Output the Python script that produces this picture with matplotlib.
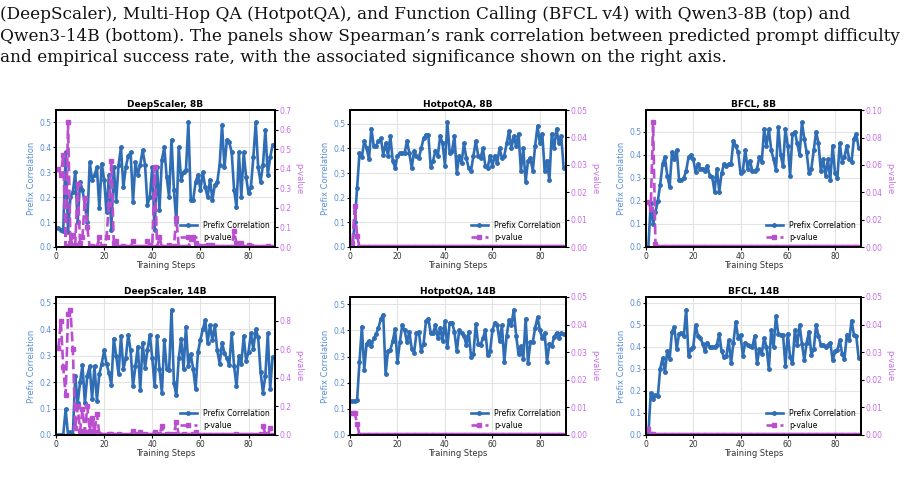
import matplotlib
matplotlib.use("Agg")
import matplotlib.pyplot as plt
import numpy as np

steps = list(range(1, 91))

titles = ["DeepScaler, 8B", "HotpotQA, 8B", "BFCL, 8B",
          "DeepScaler, 14B", "HotpotQA, 14B", "BFCL, 14B"]

ds8_corr = [0.075, 0.07, 0.065, 0.38, 0.06, 0.20, 0.22, 0.30, 0.10, 0.26,
            0.23, 0.17, 0.10, 0.34, 0.27, 0.29, 0.32, 0.155, 0.335, 0.27,
            0.14, 0.29, 0.07, 0.32, 0.185, 0.33, 0.40, 0.24, 0.32, 0.365,
            0.38, 0.18, 0.34, 0.29, 0.33, 0.39, 0.33, 0.17, 0.20, 0.32,
            0.07, 0.32, 0.15, 0.35, 0.40, 0.28, 0.20, 0.43, 0.23, 0.10,
            0.40, 0.27, 0.30, 0.31, 0.50, 0.19, 0.19, 0.26, 0.29, 0.23,
            0.30, 0.24, 0.20, 0.27, 0.19, 0.25, 0.26, 0.33, 0.49, 0.32,
            0.43, 0.42, 0.38, 0.23, 0.16, 0.38, 0.20, 0.38, 0.28, 0.215,
            0.24, 0.36, 0.50, 0.32, 0.26, 0.33, 0.47, 0.29, 0.36, 0.41]
ds8_pval = [0.40, 0.37, 0.47, 0.005, 0.637, 0.02, 0.06, 0.01, 0.32, 0.02,
            0.05, 0.25, 0.10, 0.0, 0.003, 0.002, 0.001, 0.05, 0.0, 0.003,
            0.05, 0.22, 0.44, 0.02, 0.03, 0.0, 0.0, 0.005, 0.0, 0.0,
            0.0, 0.03, 0.0, 0.002, 0.0, 0.0, 0.0, 0.03, 0.01, 0.0,
            0.41, 0.0, 0.05, 0.001, 0.0, 0.002, 0.01, 0.0, 0.005, 0.15,
            0.0, 0.002, 0.0, 0.0, 0.0, 0.04, 0.05, 0.02, 0.003, 0.005,
            0.0, 0.003, 0.01, 0.001, 0.01, 0.002, 0.001, 0.0, 0.0, 0.0,
            0.0, 0.0, 0.0, 0.08, 0.02, 0.0, 0.02, 0.0, 0.002, 0.01,
            0.005, 0.0, 0.0, 0.0, 0.002, 0.0, 0.0, 0.003, 0.0, 0.0]

hq8_corr = [0.0, 0.10, 0.24, 0.38, 0.363, 0.43, 0.40, 0.355, 0.48, 0.41,
            0.41, 0.43, 0.44, 0.375, 0.42, 0.37, 0.45, 0.35, 0.32, 0.37,
            0.38, 0.38, 0.38, 0.43, 0.38, 0.32, 0.39, 0.37, 0.36, 0.40,
            0.44, 0.455, 0.455, 0.325, 0.35, 0.39, 0.37, 0.45, 0.42, 0.33,
            0.505, 0.38, 0.39, 0.45, 0.30, 0.37, 0.34, 0.42, 0.36, 0.32,
            0.31, 0.37, 0.43, 0.37, 0.36, 0.40, 0.33, 0.32, 0.37, 0.33,
            0.37, 0.34, 0.40, 0.36, 0.37, 0.42, 0.47, 0.40, 0.45, 0.41,
            0.46, 0.31, 0.40, 0.265, 0.35, 0.36, 0.31, 0.41, 0.49, 0.42,
            0.46, 0.31, 0.35, 0.27, 0.46, 0.40, 0.48, 0.42, 0.45, 0.32]
hq8_pval = [0.0015, 0.015, 0.004] + [0.0] * 87

bf8_corr = [0.0, 0.19, 0.10, 0.15, 0.20, 0.27, 0.36, 0.39, 0.31, 0.26,
            0.41, 0.38, 0.42, 0.29, 0.29, 0.30, 0.33, 0.39, 0.40, 0.38,
            0.325, 0.36, 0.34, 0.34, 0.33, 0.35, 0.31, 0.305, 0.24, 0.34,
            0.24, 0.32, 0.36, 0.35, 0.36, 0.36, 0.46, 0.44, 0.41, 0.32,
            0.33, 0.42, 0.34, 0.375, 0.33, 0.33, 0.34, 0.39, 0.37, 0.51,
            0.44, 0.51, 0.42, 0.38, 0.335, 0.52, 0.40, 0.35, 0.51, 0.44,
            0.31, 0.49, 0.50, 0.45, 0.40, 0.54, 0.47, 0.41, 0.32, 0.34,
            0.42, 0.50, 0.45, 0.33, 0.38, 0.31, 0.38, 0.29, 0.44, 0.32,
            0.30, 0.45, 0.37, 0.39, 0.44, 0.38, 0.37, 0.47, 0.49, 0.43]
bf8_pval = [0.033, 0.028, 0.091, 0.002] + [0.0] * 86

ds14_corr = [0.0, 0.0, 0.0, 0.097, 0.0, 0.01, 0.0, 0.225, 0.12, 0.20,
             0.265, 0.12, 0.225, 0.26, 0.135, 0.26, 0.13, 0.23, 0.27, 0.32,
             0.27, 0.235, 0.19, 0.365, 0.30, 0.23, 0.375, 0.25, 0.29, 0.38,
             0.32, 0.185, 0.26, 0.335, 0.17, 0.35, 0.255, 0.32, 0.38, 0.29,
             0.185, 0.375, 0.25, 0.16, 0.36, 0.25, 0.245, 0.475, 0.195, 0.15,
             0.29, 0.365, 0.25, 0.41, 0.26, 0.305, 0.25, 0.175, 0.315, 0.36,
             0.40, 0.435, 0.35, 0.415, 0.36, 0.415, 0.32, 0.27, 0.35, 0.31,
             0.29, 0.265, 0.385, 0.26, 0.185, 0.30, 0.27, 0.375, 0.28, 0.315,
             0.385, 0.325, 0.40, 0.37, 0.24, 0.16, 0.225, 0.385, 0.175, 0.295]
ds14_pval = [0.61, 0.80, 0.48, 0.28, 0.85, 0.88, 0.60, 0.05, 0.20, 0.03,
             0.18, 0.02, 0.20, 0.03, 0.12, 0.02, 0.15, 0.005, 0.0, 0.0,
             0.002, 0.005, 0.01, 0.0, 0.0, 0.005, 0.0, 0.003, 0.0, 0.0,
             0.0, 0.03, 0.005, 0.0, 0.02, 0.0, 0.005, 0.0, 0.0, 0.002,
             0.02, 0.0, 0.005, 0.06, 0.0, 0.005, 0.005, 0.0, 0.01, 0.09,
             0.0, 0.0, 0.005, 0.0, 0.003, 0.0, 0.005, 0.02, 0.0, 0.0,
             0.0, 0.0, 0.0, 0.0, 0.0, 0.0, 0.0, 0.002, 0.0, 0.0,
             0.0, 0.002, 0.0, 0.003, 0.01, 0.0, 0.002, 0.0, 0.0, 0.0,
             0.0, 0.0, 0.0, 0.0, 0.005, 0.06, 0.01, 0.0, 0.05, 0.0]

hq14_corr = [0.13, 0.13, 0.135, 0.28, 0.415, 0.25, 0.35, 0.36, 0.34, 0.37,
             0.385, 0.41, 0.445, 0.46, 0.235, 0.32, 0.325, 0.36, 0.405, 0.28,
             0.355, 0.42, 0.40, 0.355, 0.395, 0.33, 0.315, 0.39, 0.395, 0.32,
             0.35, 0.435, 0.445, 0.39, 0.39, 0.42, 0.37, 0.41, 0.36, 0.435,
             0.335, 0.43, 0.43, 0.395, 0.32, 0.40, 0.39, 0.38, 0.345, 0.395,
             0.30, 0.31, 0.425, 0.35, 0.345, 0.37, 0.40, 0.305, 0.32, 0.40,
             0.43, 0.42, 0.36, 0.42, 0.28, 0.38, 0.44, 0.42, 0.48, 0.38,
             0.31, 0.34, 0.29, 0.445, 0.275, 0.355, 0.355, 0.41, 0.45, 0.40,
             0.37, 0.39, 0.28, 0.35, 0.34, 0.375, 0.39, 0.37, 0.39, 0.385]
hq14_pval = [0.008, 0.008, 0.004] + [0.0] * 87

bf14_corr = [0.0, 0.19, 0.165, 0.18, 0.175, 0.30, 0.35, 0.285, 0.38, 0.345,
             0.47, 0.49, 0.39, 0.46, 0.465, 0.45, 0.57, 0.36, 0.39, 0.40,
             0.50, 0.45, 0.44, 0.415, 0.38, 0.42, 0.40, 0.40, 0.40, 0.41,
             0.46, 0.38, 0.355, 0.36, 0.43, 0.325, 0.42, 0.515, 0.44, 0.455,
             0.36, 0.42, 0.41, 0.405, 0.40, 0.45, 0.325, 0.39, 0.37, 0.44,
             0.40, 0.30, 0.475, 0.40, 0.54, 0.46, 0.455, 0.455, 0.315, 0.46,
             0.355, 0.325, 0.475, 0.41, 0.50, 0.415, 0.34, 0.42, 0.47, 0.365,
             0.39, 0.50, 0.45, 0.41, 0.41, 0.40, 0.41, 0.42, 0.34, 0.38,
             0.385, 0.43, 0.37, 0.345, 0.455, 0.43, 0.52, 0.455, 0.45, 0.35]
bf14_pval = [0.002, 0.0005, 0.0005] + [0.0] * 87

corrs = [ds8_corr, hq8_corr, bf8_corr, ds14_corr, hq14_corr, bf14_corr]
pvals = [ds8_pval, hq8_pval, bf8_pval, ds14_pval, hq14_pval, bf14_pval]

caption = [
    "(DeepScaler), Multi-Hop QA (HotpotQA), and Function Calling (BFCL v4) with Qwen3-8B (top) and",
    "Qwen3-14B (bottom). The panels show Spearman\u2019s rank correlation between predicted prompt difficulty",
    "and empirical success rate, with the associated significance shown on the right axis.",
]

BLUE = "#2f6db5"
BLUE_TXT = "#5a8fd6"
PINK = "#b94fcf"
PINK_TXT = "#c86ee6"

W, H = 921, 491
fig = plt.figure(figsize=(W / 100, H / 100), dpi=100)


def rect(l, t, r, b):
    return [l / W, 1 - b / H, (r - l) / W, (b - t) / H]


cols = [(56, 275), (350, 566), (646, 861)]
rows = [(110, 247), (297, 435)]

for i in range(6):
    r, c = divmod(i, 3)
    l, rr = cols[c]
    t, b = rows[r]
    ax = fig.add_axes(rect(l, t, rr, b))
    ax2 = ax.twinx()
    l1, = ax.plot(steps, corrs[i], color=BLUE, marker="o", ms=2.5, lw=1.9,
                  label="Prefix Correlation")
    l2, = ax2.plot(steps, pvals[i], color=PINK, ls="--", marker="s", ms=2.5,
                   lw=1.9, label="p-value")
    ax.set_xlim(0, 91)
    ax.set_ylim(0, max(corrs[i]) * 1.1)
    ax2.set_ylim(0, max(max(pvals[i]) * 1.1, 0.05))
    ax.set_xticks([0, 20, 40, 60, 80])
    ax.yaxis.set_major_locator(plt.MultipleLocator(0.1))
    ax.grid(True, color="#e3e3e3", lw=0.8)
    ax.set_axisbelow(True)
    ax.set_title(titles[i], fontsize=6.5, fontweight="bold", pad=2)
    ax.set_xlabel("Training Steps", fontsize=6, labelpad=0, color="#333333")
    ax.set_ylabel("Prefix Correlation", fontsize=6, color=BLUE_TXT, labelpad=2)
    ax2.set_ylabel("p-value", fontsize=6, color=PINK_TXT, rotation=270,
                   labelpad=8)
    ax.tick_params(axis="x", labelsize=5.5, length=2.5, width=0.8, pad=1,
                   labelcolor="#333333")
    ax.tick_params(axis="y", labelsize=5.5, length=2.5, width=0.8, pad=1,
                   labelcolor=BLUE_TXT)
    ax2.tick_params(axis="y", labelsize=5.5, length=2.5, width=0.8, pad=1,
                    labelcolor=PINK_TXT)
    for a in (ax, ax2):
        for s in a.spines.values():
            s.set_linewidth(1.3)
    ax2.legend([l1, l2], ["Prefix Correlation", "p-value"], loc="lower right",
               frameon=False, fontsize=5.5, handlelength=2.2,
               borderaxespad=0.3, labelspacing=0.4)

ys = [19, 41, 62]
for txt, y in zip(caption, ys):
    fig.text(0.0, 1 - y / H, txt, fontsize=12.2, family="DejaVu Serif",
             va="baseline", ha="left", color="#111111")

fig.savefig("out.png", dpi=100)
